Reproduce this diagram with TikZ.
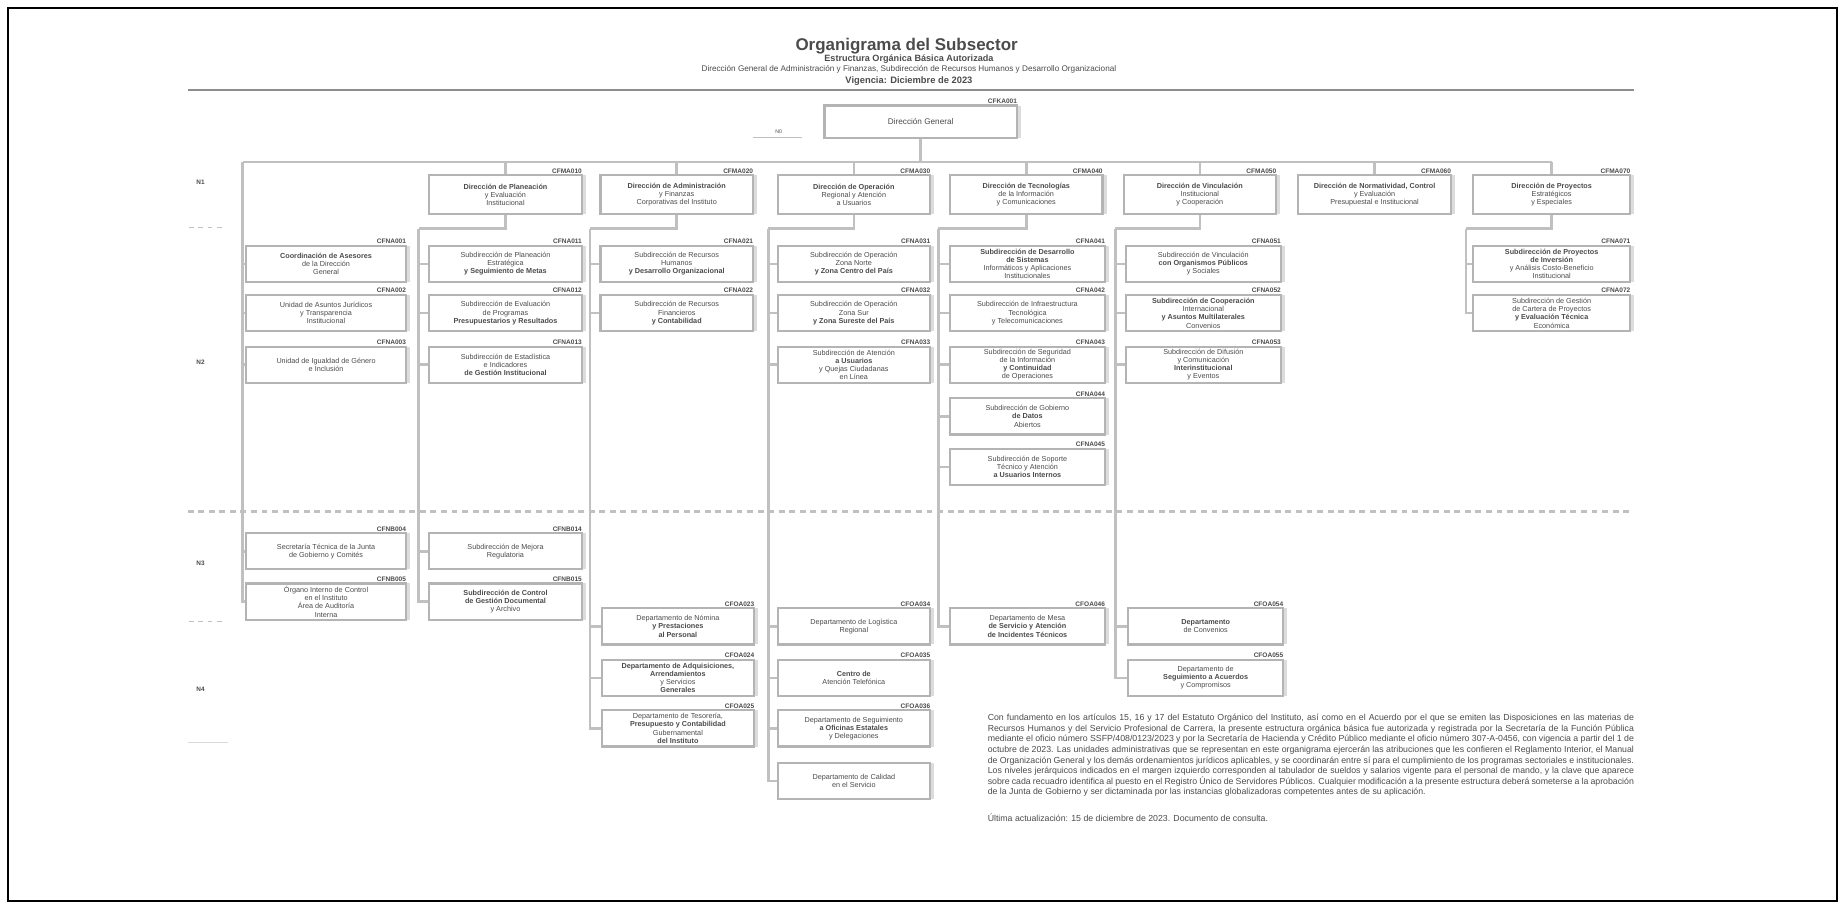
\documentclass[tikz,border=0pt]{standalone}
\usepackage{fontspec}
\setmainfont{Liberation Sans}
\usetikzlibrary{shadows}
\definecolor{linkgray}{RGB}{192,192,192}
\definecolor{boxgray}{RGB}{180,180,180}
\definecolor{rulegray}{RGB}{140,140,140}
\definecolor{inkgray}{RGB}{75,75,75}
\begin{document}
\begin{tikzpicture}[x=1bp,y=-1bp,
  ocbox/.style={draw=boxgray,line width=1.8bp,fill=white,align=center,
    minimum width=130bp,minimum height=31bp,inner sep=1bp,text=inkgray,
    font=\fontsize{6.2}{7}\selectfont,
    drop shadow={shadow xshift=3.5bp,shadow yshift=0bp,fill=linkgray!55,opacity=1}},
  occode/.style={anchor=south east,inner sep=0.6bp,text=inkgray,
    font=\fontsize{5.6}{6}\selectfont\bfseries},
  oclevel/.style={inner sep=0bp,text=inkgray,font=\fontsize{5.5}{6}\selectfont\bfseries}]%
\ifx\oclw\undefined\newdimen\oclw\fi
\global\def\ocdraw{\draw[line width=\oclw,draw=linkgray]}
\global\def\ocstop{;}
\oclw=2.2bp
\useasboundingbox (0,0) rectangle (1568,770)\ocstop
\draw[line width=1.6bp] (7,7) rectangle (1566,768)\ocstop
% encabezado
\node[inner sep=0bp,text=inkgray,font=\fontsize{14.5}{15}\selectfont\bfseries] (titulo) at (773,39) {Organigrama del Subsector};
\node[inner sep=0bp,text=inkgray,font=\fontsize{7.8}{8}\selectfont\bfseries] (subtitulo) at (775,50.5) {Estructura Orgánica Básica Autorizada};
\node[inner sep=0bp,text=inkgray,font=\fontsize{7}{7}\selectfont] (leyenda) at (775,59.5) {Dirección General de Administración y Finanzas, Subdirección de Recursos Humanos y Desarrollo Organizacional};
\node[inner sep=0bp,text=inkgray,font=\fontsize{8}{8}\selectfont\bfseries] (fecha) at (775,69) {Vigencia: Diciembre de 2023};
\draw[line width=1.6bp,rulegray] (160,77) -- (1393,77)\ocstop
% niveles
\node[oclevel] (n1) at (171,155) {N1};
\node[oclevel] (n2) at (171,309) {N2};
\node[oclevel] (n3) at (171,480) {N3};
\node[oclevel] (n4) at (171,588) {N4};
\coordinate (s1w) at (161,194); \coordinate (s1e) at (190,194);
\coordinate (s2w) at (161,530); \coordinate (s2e) at (190,530);
\coordinate (s3w) at (160,633); \coordinate (s3e) at (194,633);
\draw[linkgray,line width=1.2bp,dash pattern=on 4bp off 4bp] (s1w) -- (s1e)\ocstop
\draw[linkgray,line width=1.2bp,dash pattern=on 4bp off 4bp] (s2w) -- (s2e)\ocstop
\draw[linkgray!60,line width=1.2bp] (s3w) -- (s3e)\ocstop
\coordinate (divw) at (160,436); \coordinate (dive) at (1393,436);
\draw[linkgray,line width=2bp,dash pattern=on 5bp off 4bp] (divw) -- (dive)\ocstop
% direccion general
\node[ocbox,minimum width=164bp,minimum height=28bp,font=\fontsize{7}{7}\selectfont] (dg) at (785,104) {Dirección General};
\node[occode] (dgc) at (dg.north east) {CFKA001};
\node[oclevel,font=\fontsize{4.5}{5}\selectfont] (n0) at (664,112) {N0};
\coordinate (n0w) at (642,117); \coordinate (n0e) at (684,117);
\draw[linkgray,line width=1bp] (n0w) -- (n0e)\ocstop
% primer nivel
\node[ocbox,minimum height=33bp] (b0) at (431,166) {\textbf{Dirección de Planeación}\\ y Evaluación\\ Institucional};
\node[ocbox,minimum height=33bp] (c0) at (577,166) {\textbf{Dirección de Administración}\\ y Finanzas\\ Corporativas del Instituto};
\node[ocbox,minimum height=33bp] (d0) at (728,166) {\textbf{Dirección de Operación}\\ Regional y Atención\\ a Usuarios};
\node[ocbox,minimum height=33bp] (e0) at (875,166) {\textbf{Dirección de Tecnologías}\\ de la Información\\ y Comunicaciones};
\node[ocbox,minimum height=33bp] (f0) at (1023,166) {\textbf{Dirección de Vinculación}\\ Institucional\\ y Cooperación};
\node[ocbox,minimum height=33bp] (g0) at (1172,166) {\textbf{Dirección de Normatividad, Control}\\ y Evaluación\\ Presupuestal e Institucional};
\node[ocbox,minimum height=33bp,minimum width=134bp] (h0) at (1323,166) {\textbf{Dirección de Proyectos}\\ Estratégicos\\ y Especiales};
\node[occode] (b0c) at (b0.north east) {CFMA010};
\node[occode] (c0c) at (c0.north east) {CFMA020};
\node[occode] (d0c) at (d0.north east) {CFMA030};
\node[occode] (e0c) at (e0.north east) {CFMA040};
\node[occode] (f0c) at (f0.north east) {CFMA050};
\node[occode] (g0c) at (g0.north east) {CFMA060};
\node[occode] (h0c) at (h0.north east) {CFMA070};
% columna A
\node[ocbox,minimum width=136bp] (a1) at (278,225) {\textbf{Coordinación de Asesores}\\ de la Dirección\\ General};
\node[ocbox,minimum width=136bp] (a2) at (278,267) {Unidad de Asuntos Jurídicos\\ y Transparencia\\ Institucional};
\node[ocbox,minimum width=136bp] (a3) at (278,311) {Unidad de Igualdad de Género\\ e Inclusión};
\node[ocbox,minimum width=136bp] (a4) at (278,470) {Secretaría Técnica de la Junta\\ de Gobierno y Comités};
\node[ocbox,minimum width=136bp] (a5) at (278,513) {Órgano Interno de Control\\ en el Instituto\\ Área de Auditoría\\ Interna};
\node[occode] (a1c) at (a1.north east) {CFNA001};
\node[occode] (a2c) at (a2.north east) {CFNA002};
\node[occode] (a3c) at (a3.north east) {CFNA003};
\node[occode] (a4c) at (a4.north east) {CFNB004};
\node[occode] (a5c) at (a5.north east) {CFNB005};
% columna B
\node[ocbox] (b1) at (431,225) {Subdirección de Planeación\\ Estratégica\\ \textbf{y Seguimiento de Metas}};
\node[ocbox] (b2) at (431,267) {Subdirección de Evaluación\\ de Programas\\ \textbf{Presupuestarios y Resultados}};
\node[ocbox] (b3) at (431,311) {Subdirección de Estadística\\ e Indicadores\\ \textbf{de Gestión Institucional}};
\node[ocbox] (b4) at (431,470) {Subdirección de Mejora\\ Regulatoria};
\node[ocbox] (b5) at (431,513) {\textbf{Subdirección de Control}\\ \textbf{de Gestión Documental}\\ y Archivo};
\node[occode] (b1c) at (b1.north east) {CFNA011};
\node[occode] (b2c) at (b2.north east) {CFNA012};
\node[occode] (b3c) at (b3.north east) {CFNA013};
\node[occode] (b4c) at (b4.north east) {CFNB014};
\node[occode] (b5c) at (b5.north east) {CFNB015};
% columna C
\node[ocbox] (c1) at (577,225) {Subdirección de Recursos\\ Humanos\\ \textbf{y Desarrollo Organizacional}};
\node[ocbox] (c2) at (577,267) {Subdirección de Recursos\\ Financieros\\ \textbf{y Contabilidad}};
\node[ocbox] (c3) at (578,534) {Departamento de Nómina\\ \textbf{y Prestaciones}\\ \textbf{al Personal}};
\node[ocbox] (c4) at (578,578) {\textbf{Departamento de Adquisiciones,}\\ \textbf{Arrendamientos}\\ y Servicios\\ \textbf{Generales}};
\node[ocbox] (c5) at (578,621) {Departamento de Tesorería,\\ \textbf{Presupuesto y Contabilidad}\\ Gubernamental\\ \textbf{del Instituto}};
\node[occode] (c1c) at (c1.north east) {CFNA021};
\node[occode] (c2c) at (c2.north east) {CFNA022};
\node[occode] (c3c) at (c3.north east) {CFOA023};
\node[occode] (c4c) at (c4.north east) {CFOA024};
\node[occode] (c5c) at (c5.north east) {CFOA025};
% columna D
\node[ocbox] (d1) at (728,225) {Subdirección de Operación\\ Zona Norte\\ \textbf{y Zona Centro del País}};
\node[ocbox] (d2) at (728,267) {Subdirección de Operación\\ Zona Sur\\ \textbf{y Zona Sureste del País}};
\node[ocbox] (d3) at (728,311) {Subdirección de Atención\\ \textbf{a Usuarios}\\ y Quejas Ciudadanas\\ en Línea};
\node[ocbox] (d4) at (728,534) {Departamento de Logística\\ Regional};
\node[ocbox] (d5) at (728,578) {\textbf{Centro de}\\ Atención Telefónica};
\node[ocbox] (d6) at (728,621) {Departamento de Seguimiento\\ \textbf{a Oficinas Estatales}\\ y Delegaciones};
\node[ocbox] (d7) at (728,666) {Departamento de Calidad\\ en el Servicio};
\node[occode] (d1c) at (d1.north east) {CFNA031};
\node[occode] (d2c) at (d2.north east) {CFNA032};
\node[occode] (d3c) at (d3.north east) {CFNA033};
\node[occode] (d4c) at (d4.north east) {CFOA034};
\node[occode] (d5c) at (d5.north east) {CFOA035};
\node[occode] (d6c) at (d6.north east) {CFOA036};
% columna E
\node[ocbox,minimum width=132bp] (e1) at (876,225) {\textbf{Subdirección de Desarrollo}\\ \textbf{de Sistemas}\\ Informáticos y Aplicaciones\\ Institucionales};
\node[ocbox,minimum width=132bp] (e2) at (876,267) {Subdirección de Infraestructura\\ Tecnológica\\ y Telecomunicaciones};
\node[ocbox,minimum width=132bp] (e3) at (876,311) {Subdirección de Seguridad\\ de la Información\\ \textbf{y Continuidad}\\ de Operaciones};
\node[ocbox,minimum width=132bp] (e4) at (876,355) {Subdirección de Gobierno\\ \textbf{de Datos}\\ Abiertos};
\node[ocbox,minimum width=132bp] (e5) at (876,398) {Subdirección de Soporte\\ Técnico y Atención\\ \textbf{a Usuarios Internos}};
\node[ocbox,minimum width=132bp] (e6) at (876,534) {Departamento de Mesa\\ \textbf{de Servicio y Atención}\\ \textbf{de Incidentes Técnicos}};
\node[occode] (e1c) at (e1.north east) {CFNA041};
\node[occode] (e2c) at (e2.north east) {CFNA042};
\node[occode] (e3c) at (e3.north east) {CFNA043};
\node[occode] (e4c) at (e4.north east) {CFNA044};
\node[occode] (e5c) at (e5.north east) {CFNA045};
\node[occode] (e6c) at (e6.north east) {CFOA046};
% columna F
\node[ocbox,minimum width=132bp] (f1) at (1026,225) {Subdirección de Vinculación\\ \textbf{con Organismos Públicos}\\ y Sociales};
\node[ocbox,minimum width=132bp] (f2) at (1026,267) {\textbf{Subdirección de Cooperación}\\ Internacional\\ \textbf{y Asuntos Multilaterales}\\ Convenios};
\node[ocbox,minimum width=132bp] (f3) at (1026,311) {Subdirección de Difusión\\ y Comunicación\\ \textbf{Interinstitucional}\\ y Eventos};
\node[ocbox,minimum width=132bp] (f4) at (1028,534) {\textbf{Departamento}\\ de Convenios};
\node[ocbox,minimum width=132bp] (f5) at (1028,578) {Departamento de\\ \textbf{Seguimiento a Acuerdos}\\ y Compromisos};
\node[occode] (f1c) at (f1.north east) {CFNA051};
\node[occode] (f2c) at (f2.north east) {CFNA052};
\node[occode] (f3c) at (f3.north east) {CFNA053};
\node[occode] (f4c) at (f4.north east) {CFOA054};
\node[occode] (f5c) at (f5.north east) {CFOA055};
% columna H
\node[ocbox,minimum width=134bp] (h1) at (1323,225) {\textbf{Subdirección de Proyectos}\\ \textbf{de Inversión}\\ y Análisis Costo-Beneficio\\ Institucional};
\node[ocbox,minimum width=134bp] (h2) at (1323,267) {Subdirección de Gestión\\ de Cartera de Proyectos\\ \textbf{y Evaluación Técnica}\\ Económica};
\node[occode] (h1c) at (h1.north east) {CFNA071};
\node[occode] (h2c) at (h2.north east) {CFNA072};
% lineas de mando
\coordinate (bus) at (785,138);
\coordinate (tA) at (207,138);
\coordinate (tB) at (357,195);
\coordinate (tC) at (503,195);
\coordinate (tD) at (655,195);
\coordinate (tE) at (800,195);
\coordinate (tF) at (951,195);
\coordinate (tH) at (1250,195);
\ocdraw (dg.south) -- (bus)\ocstop
\ocdraw (tA) -- (bus) -- (h0.north |- bus)\ocstop
\ocdraw (b0.north) -- (b0.north |- bus)\ocstop
\ocdraw (c0.north) -- (c0.north |- bus)\ocstop
\ocdraw (d0.north) -- (d0.north |- bus)\ocstop
\ocdraw (e0.north) -- (e0.north |- bus)\ocstop
\ocdraw (f0.north) -- (f0.north |- bus)\ocstop
\ocdraw (g0.north) -- (g0.north |- bus)\ocstop
\ocdraw (h0.north) -- (h0.north |- bus)\ocstop
\ocdraw (tA) |- (a1.west)\ocstop
\ocdraw (tA) |- (a2.west)\ocstop
\ocdraw (tA) |- (a3.west)\ocstop
\ocdraw (tA) |- (a4.west)\ocstop
\ocdraw (tA) |- (a5.west)\ocstop
\ocdraw (b0.south) |- (tB)\ocstop
\ocdraw (tB) |- (b1.west)\ocstop
\ocdraw (tB) |- (b2.west)\ocstop
\ocdraw (tB) |- (b3.west)\ocstop
\ocdraw (tB) |- (b4.west)\ocstop
\ocdraw (tB) |- (b5.west)\ocstop
\ocdraw (c0.south) |- (tC)\ocstop
\ocdraw (tC) |- (c1.west)\ocstop
\ocdraw (tC) |- (c2.west)\ocstop
\ocdraw (tC) |- (c3.west)\ocstop
\ocdraw (tC) |- (c4.west)\ocstop
\ocdraw (tC) |- (c5.west)\ocstop
\ocdraw (d0.south) |- (tD)\ocstop
\ocdraw (tD) |- (d1.west)\ocstop
\ocdraw (tD) |- (d2.west)\ocstop
\ocdraw (tD) |- (d3.west)\ocstop
\ocdraw (tD) |- (d4.west)\ocstop
\ocdraw (tD) |- (d5.west)\ocstop
\ocdraw (tD) |- (d6.west)\ocstop
\ocdraw (tD) |- (d7.west)\ocstop
\ocdraw (e0.south) |- (tE)\ocstop
\ocdraw (tE) |- (e1.west)\ocstop
\ocdraw (tE) |- (e2.west)\ocstop
\ocdraw (tE) |- (e3.west)\ocstop
\ocdraw (tE) |- (e4.west)\ocstop
\ocdraw (tE) |- (e5.west)\ocstop
\ocdraw (tE) |- (e6.west)\ocstop
\ocdraw (f0.south) |- (tF)\ocstop
\ocdraw (tF) |- (f1.west)\ocstop
\ocdraw (tF) |- (f2.west)\ocstop
\ocdraw (tF) |- (f3.west)\ocstop
\ocdraw (tF) |- (f4.west)\ocstop
\ocdraw (tF) |- (f5.west)\ocstop
\ocdraw (h0.south) |- (tH)\ocstop
\ocdraw (tH) |- (h1.west)\ocstop
\ocdraw (tH) |- (h2.west)\ocstop
% nota
\node[anchor=north west,inner sep=0bp,text width=551bp,align=justify,text=inkgray,
  font=\fontsize{7.5}{9}\selectfont] (nota) at (842,609) {Con fundamento en los artículos 15, 16 y 17 del Estatuto Orgánico del Instituto, así como en el Acuerdo por el que se emiten las Disposiciones en las materias de Recursos Humanos y del Servicio Profesional de Carrera, la presente estructura orgánica básica fue autorizada y registrada por la Secretaría de la Función Pública mediante el oficio número SSFP/408/0123/2023 y por la Secretaría de Hacienda y Crédito Público mediante el oficio número 307-A-0456, con vigencia a partir del 1 de octubre de 2023. Las unidades administrativas que se representan en este organigrama ejercerán las atribuciones que les confieren el Reglamento Interior, el Manual de Organización General y los demás ordenamientos jurídicos aplicables, y se coordinarán entre sí para el cumplimiento de los programas sectoriales e institucionales. Los niveles jerárquicos indicados en el margen izquierdo corresponden al tabulador de sueldos y salarios vigente para el personal de mando, y la clave que aparece sobre cada recuadro identifica al puesto en el Registro Único de Servidores Públicos. Cualquier modificación a la presente estructura deberá someterse a la aprobación de la Junta de Gobierno y ser dictaminada por las instancias globalizadoras competentes antes de su aplicación.};
\node[anchor=west,inner sep=0bp,text=inkgray,font=\fontsize{7.5}{8}\selectfont] (actualiza) at (842,697) {Última actualización: 15 de diciembre de 2023. Documento de consulta.};
\end{tikzpicture}
\end{document}
